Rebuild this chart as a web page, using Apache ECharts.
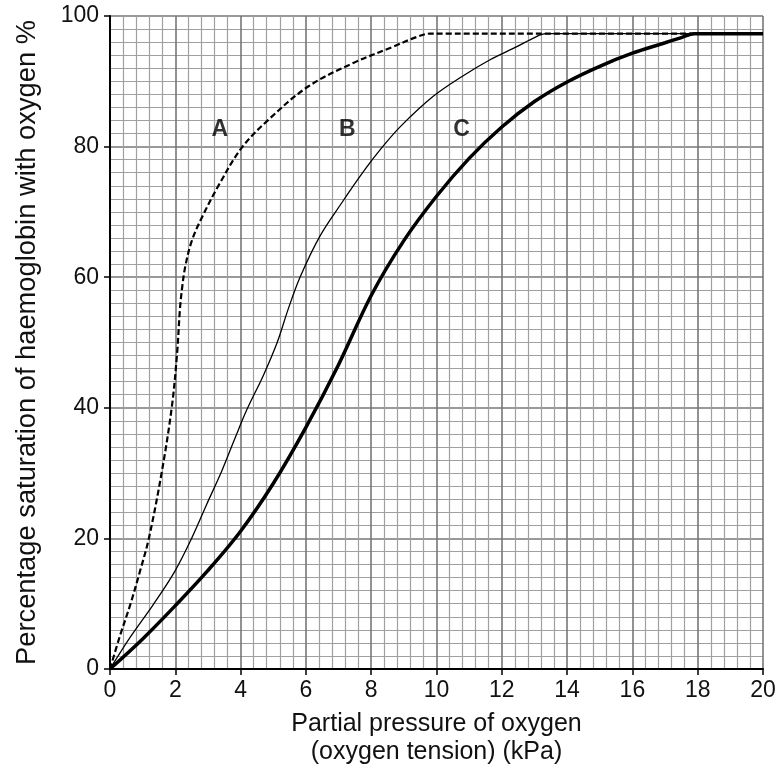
<!DOCTYPE html>
<html>
<head>
<meta charset="utf-8">
<script src="https://cdn.jsdelivr.net/npm/echarts@6/dist/echarts.min.js"></script>
<style>
html,body{margin:0;padding:0;background:#fff;}
#chart{width:781px;height:771px;}
</style>
</head>
<body>
<div id="chart"></div>
<script>
// Curve A (dashed): [pO2 kPa, % saturation]
const curveA = [[0,0],[0.3,5],[0.63,10],[0.92,15],[1.19,20],[1.58,30],[1.89,40],[2.05,48],[2.14,55],[2.2,58],[2.3,61.5],[2.5,65.5],[2.8,69],[3.32,74],[4.03,79.8],[4.85,84.1],[6.07,89.2],[7.45,92.8],[8.67,95.3],[9.4,96.8],[9.8,97.3],[20,97.3]];
// Curve B (thin solid)
const curveB = [[0,0],[0.61,4.8],[1.33,9.9],[1.99,15],[2.5,20],[2.96,25.2],[3.42,30.3],[3.8,35],[4.2,39.8],[4.7,45],[5.12,50],[5.45,55],[5.82,60],[6.43,66.3],[7.1,71.4],[7.81,76.5],[8.32,79.8],[8.9,83.1],[9.9,87.7],[10.77,90.7],[11.64,93.3],[12.46,95.3],[13.0,96.7],[13.35,97.3],[20,97.3]];
// Curve C (thick solid)
const curveC = [[0,0],[1,4.6],[2,9.7],[3,15.1],[4,21.1],[5,28.4],[6,37.0],[7,46.6],[8,57.2],[9,65.6],[10,72.4],[11,78.2],[12,83.0],[13,86.9],[14,89.9],[15,92.3],[16,94.3],[17,95.9],[17.5,96.7],[17.9,97.3],[20,97.3]];
// Curve labels
const labelNames = ['A','B','C'];
const labelX = [3.36, 7.27, 10.77];
const labelY = [82.6, 82.6, 82.6];
// Axes
const xMin = 0, xMax = 20, xStep = 2;
const yMin = 0, yMax = 100, yStep = 20;

const font = 'Liberation Sans, Arial, sans-serif';
const chart = echarts.init(document.getElementById('chart'), null, {renderer:'canvas'});
chart.setOption({
  animation:false,
  backgroundColor:'#fff',
  grid:{left:110, right:18, top:16, bottom:99},
  xAxis:{
    type:'value', min:xMin, max:xMax, interval:xStep,
    name:'Partial pressure of oxygen\n(oxygen tension) (kPa)',
    nameLocation:'middle', nameGap:41,
    nameTextStyle:{fontFamily:font, fontSize:25, color:'#111', lineHeight:28},
    axisLine:{show:true, onZero:false, lineStyle:{color:'#000', width:2}},
    axisTick:{show:true, length:6, lineStyle:{color:'#000', width:1.5}},
    axisLabel:{fontFamily:font, fontSize:23, color:'#111', margin:10},
    splitLine:{show:true, lineStyle:{color:'#777', width:1.6}},
    minorTick:{show:false, splitNumber:5},
    minorSplitLine:{show:true, lineStyle:{color:'#a0a0a0', width:1.2}}
  },
  yAxis:{
    type:'value', min:yMin, max:yMax, interval:yStep,
    name:'Percentage saturation of haemoglobin with oxygen %',
    nameLocation:'middle', nameGap:69,
    nameTextStyle:{fontFamily:font, fontSize:27.3, color:'#111'},
    axisLine:{show:true, onZero:false, lineStyle:{color:'#000', width:2}},
    axisTick:{show:true, length:6, lineStyle:{color:'#000', width:1.5}},
    axisLabel:{fontFamily:font, fontSize:23, color:'#111', margin:11},
    splitLine:{show:true, lineStyle:{color:'#777', width:1.6}},
    minorTick:{show:false, splitNumber:10},
    minorSplitLine:{show:true, lineStyle:{color:'#a0a0a0', width:1.2}}
  },
  series:[
    {type:'line', data:curveC, smooth:0.35, showSymbol:false, lineStyle:{color:'#000', width:3.5}, z:3},
    {type:'line', data:curveB, smooth:0.35, showSymbol:false, lineStyle:{color:'#000', width:1.3}, z:4},
    {type:'line', data:curveA, smooth:0.35, showSymbol:false, lineStyle:{color:'#000', width:2.2, type:[6,3]}, z:5},
    {type:'scatter', symbolSize:0, z:6,
     data:labelNames.map((n,i)=>({name:n, value:[labelX[i], labelY[i]]})),
     label:{show:true, position:'inside', formatter:'{b}', fontFamily:font, fontWeight:'bold', fontSize:23, color:'#000'}}
  ]
});
</script>
</body>
</html>
